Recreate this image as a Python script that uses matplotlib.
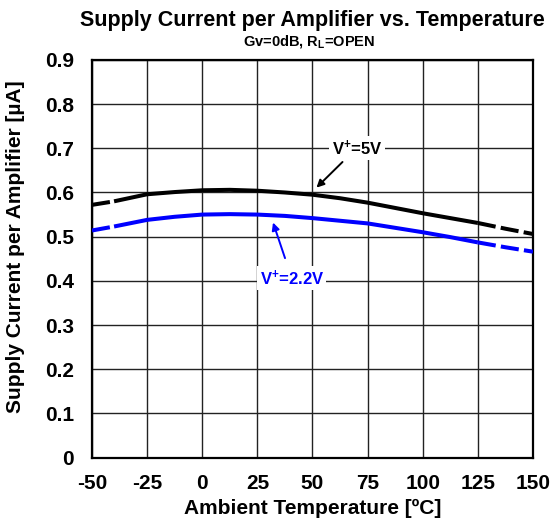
import matplotlib
matplotlib.use("Agg")
import matplotlib.pyplot as plt

# readings
temp = [-50, -40, -25, -12.5, 0, 12.5, 25, 37.5, 50, 62.5, 75, 87.5, 100, 112.5, 125, 137.5, 150]
i_5v = [0.572, 0.580, 0.596, 0.601, 0.605, 0.606, 0.604, 0.600, 0.595, 0.587,
        0.577, 0.565, 0.553, 0.542, 0.531, 0.518, 0.506]
i_22v = [0.514, 0.523, 0.538, 0.545, 0.550, 0.551, 0.550, 0.547, 0.542, 0.536,
         0.530, 0.520, 0.510, 0.499, 0.487, 0.476, 0.466]

x_ticks = [-50, -25, 0, 25, 50, 75, 100, 125, 150]
y_ticks = [0, 0.1, 0.2, 0.3, 0.4, 0.5, 0.6, 0.7, 0.8, 0.9]
y_tick_labels = ["0", "0.1", "0.2", "0.3", "0.4", "0.5", "0.6", "0.7", "0.8", "0.9"]

# guaranteed range is solid, outside it dashed
SOLID_LO, SOLID_HI = -40, 125

plt.rcParams['font.family'] = ['Liberation Sans', 'DejaVu Sans']
plt.rcParams['font.weight'] = 'bold'
plt.rcParams['mathtext.default'] = 'regular'
plt.rcParams['axes.unicode_minus'] = False


def split(xs, ys):
    lo = [(x, y) for x, y in zip(xs, ys) if x <= SOLID_LO]
    mid = [(x, y) for x, y in zip(xs, ys) if SOLID_LO <= x <= SOLID_HI]
    hi = [(x, y) for x, y in zip(xs, ys) if x >= SOLID_HI]
    return lo, mid, hi


def draw_curve(ax, xs, ys, color):
    lo, mid, hi = split(xs, ys)
    for seg, dashed in ((lo, True), (mid, False), (hi, True)):
        sx = [p[0] for p in seg]
        sy = [p[1] for p in seg]
        if dashed:
            ax.plot(sx, sy, color=color, lw=2.9, dashes=(4.5, 1.3),
                    dash_capstyle='butt', zorder=3)
        else:
            ax.plot(sx, sy, color=color, lw=2.9, solid_capstyle='butt', zorder=3)


fig = plt.figure(figsize=(5.56, 5.28), dpi=100)
ax = fig.add_axes([0.1655, 0.1335, 0.7931, 0.7529])

draw_curve(ax, temp, i_5v, "black")
draw_curve(ax, temp, i_22v, "#0000ff")

ax.set_xlim(-50, 150)
ax.set_ylim(0, 0.9)
ax.set_xticks(x_ticks)
ax.set_yticks(y_ticks)
ax.set_yticklabels(y_tick_labels)
ax.tick_params(axis='both', length=0, labelsize=15)
ax.tick_params(axis='y', pad=13)
ax.tick_params(axis='x', pad=12)
ax.grid(True, color="#222222", lw=1.0)
ax.set_axisbelow(True)
for sp in ax.spines.values():
    sp.set_linewidth(1.6)
    sp.set_color("black")

ax.set_xlabel("Ambient Temperature [ºC]", fontsize=15, fontweight='bold', labelpad=4)
ax.set_ylabel("Supply Current per Amplifier [µA]", fontsize=15, fontweight='bold')
ax.yaxis.set_label_coords(-0.152, 0.53)

fig.text(0.561, 0.962, "Supply Current per Amplifier vs. Temperature",
         ha='center', va='center', fontsize=15.5, fontweight='bold')
fig.text(0.556, 0.921, r"Gv=0dB, R$_{L}$=OPEN",
         ha='center', va='center', fontsize=10.5, fontweight='bold')

ax.annotate(r"V$^{+}$=5V", xy=(51.8, 0.611), xytext=(70.1, 0.701),
            ha='center', va='center', fontsize=12, fontweight='bold', color='black',
            bbox=dict(boxstyle='square,pad=0.15', fc='white', ec='none'),
            arrowprops=dict(arrowstyle='-|>', color='black', lw=1.4,
                            mutation_scale=11, shrinkA=2, shrinkB=0),
            zorder=5)
ax.annotate(r"V$^{+}$=2.2V", xy=(32.1, 0.532), xytext=(40.6, 0.406),
            ha='center', va='center', fontsize=12, fontweight='bold', color='#0000ff',
            bbox=dict(boxstyle='square,pad=0.15', fc='white', ec='none'),
            arrowprops=dict(arrowstyle='-|>', color='#0000ff', lw=1.4,
                            mutation_scale=11, shrinkA=6, shrinkB=0),
            zorder=5)

fig.savefig("out.png", dpi=100)
